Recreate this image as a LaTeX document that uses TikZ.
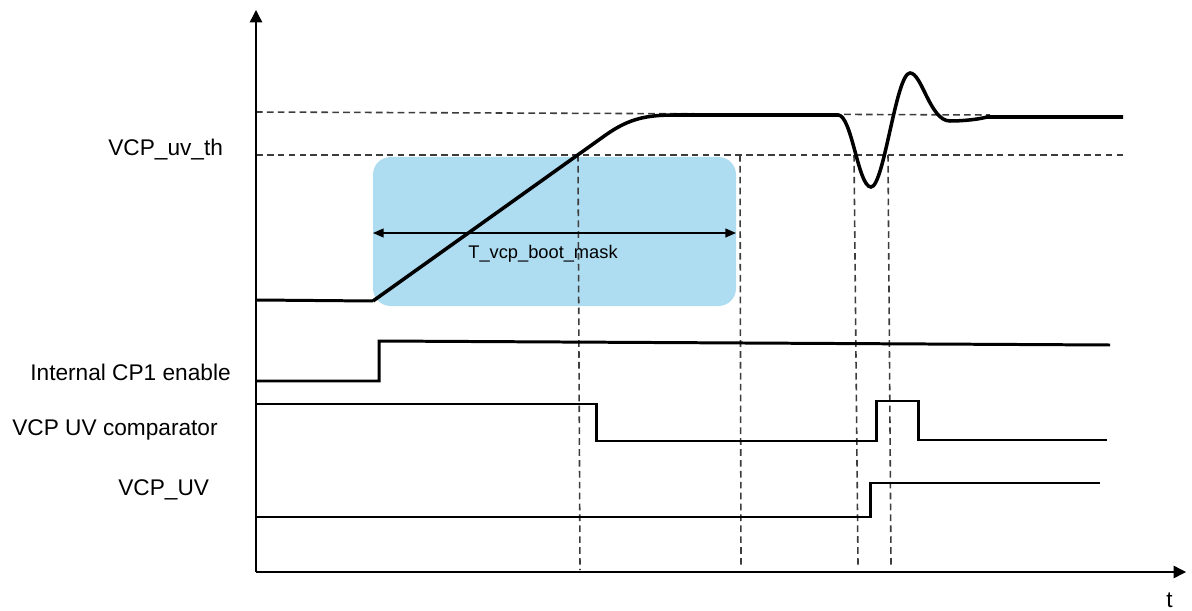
\documentclass[tikz,border=0pt]{standalone}
\usepackage{fontspec}
\setmainfont{Liberation Sans}
\usetikzlibrary{arrows.meta}
\definecolor{maskblue}{RGB}{174,220,240}
\definecolor{guidegray}{RGB}{60,60,60}

\begin{document}
\begin{tikzpicture}[x=0.02cm,y=-0.02cm,
    signal/.style={line width=1.7pt,black},
    guide/.style={guidegray,line width=0.9pt,dash pattern=on 3.8pt off 2.4pt},
    axis/.style={line width=0.8pt,-{Triangle[length=7pt,width=7pt]}},
    lbl/.style={font=\fontsize{12.9}{15}\selectfont,inner sep=0pt,anchor=base west}]
    \useasboundingbox (0,0) rectangle (1192,611);

    % Draw mask window
    \fill[maskblue,rounded corners=10pt] (373,157) rectangle (736,306);

    % Draw threshold levels
    \draw[guide] (256,112) -- (990,115);
    \draw[guide] (256,155) -- (1127,155);

    % Draw time markers
    \draw[guide] (578,155) -- (580,570);
    \draw[guide] (740,155) -- (741,565);
    \draw[guide] (854,155) -- (858,565);
    \draw[guide] (888,155) -- (891,565);

    % Draw axes
    \draw[axis] (256,572) -- (256,10);
    \draw[axis] (256,572) -- (1186,572);

    % Mask duration arrow
    \coordinate (mask_l) at (373,233);
    \coordinate (mask_r) at (736,233);
    \draw[{Triangle[length=6pt,width=5pt]}-{Triangle[length=6pt,width=5pt]},line width=0.8pt] (mask_l) -- (mask_r);
    \node[lbl,font=\fontsize{10.4}{12}\selectfont] (lbl_mask) at (468,258) {T\_vcp\_boot\_mask};

    % VCP ramp and ringing
    \draw[signal] (256,300) -- (373,301);
    \draw[signal,line width=2pt] (373,301) -- (605,135.5) .. controls (628,119.1) and (645,115) .. (675,115)
        -- (838,115) .. controls (852,115) and (858,187) .. (871,187)
        .. controls (884,187) and (896,73) .. (910,73)
        .. controls (922,73) and (930,121) .. (950,121)
        .. controls (965,121) and (980,119) .. (987,117) -- (1123,117);

    % Internal CP1 enable
    \draw[signal] (256,381) -- (379,381) -- (379,341) -- (1110,345);

    % VCP UV comparator
    \draw[signal] (256,404) -- (596,404) -- (596,441) -- (876,441) -- (876,401)
        -- (918,401) -- (918,440) -- (1107,440);

    % VCP_UV flag
    \draw[signal] (256,517) -- (870,517) -- (870,483) -- (1100,483);

    % Add labels
    \node[lbl] (lbl_th) at (108,155) {VCP\_uv\_th};
    \node[lbl] (lbl_cp) at (30,380) {Internal CP1 enable};
    \node[lbl] (lbl_cmp) at (12,435) {VCP UV comparator};
    \node[lbl] (lbl_uv) at (118,495) {VCP\_UV};
    \node[lbl] (lbl_t) at (1166,607) {t};
\end{tikzpicture}
\end{document}
